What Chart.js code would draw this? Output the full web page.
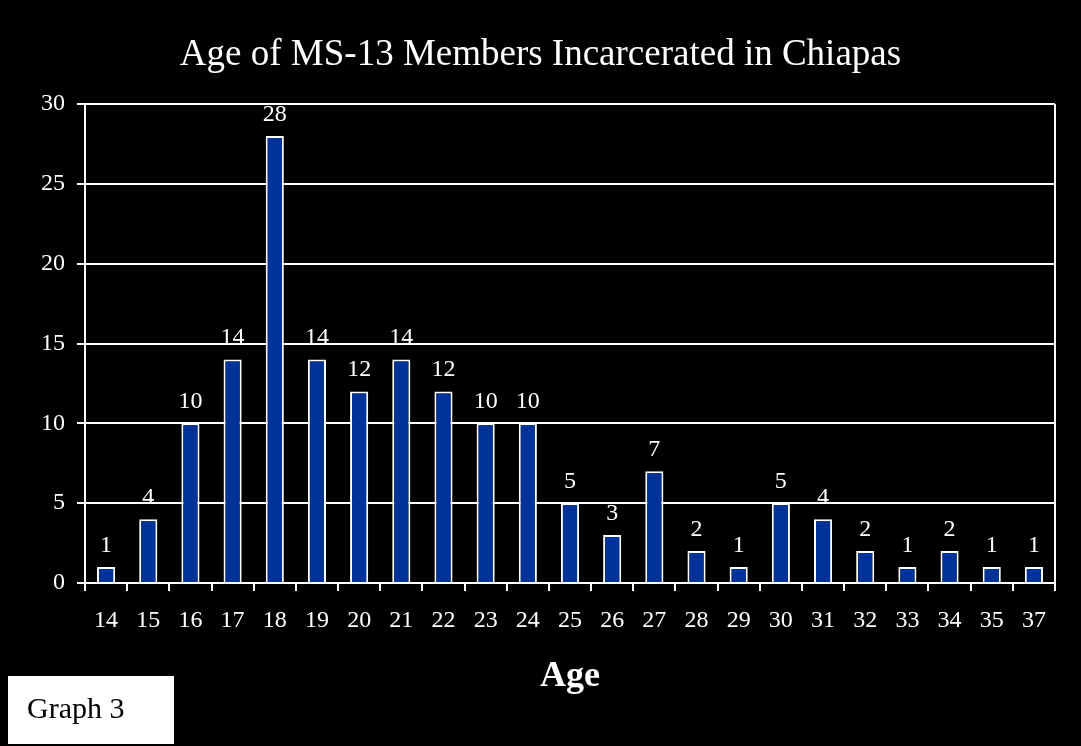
<!DOCTYPE html>
<html>
<head>
<meta charset="utf-8">
<title>Age of MS-13 Members Incarcerated in Chiapas</title>
<script src="https://cdn.jsdelivr.net/npm/chart.js@4.4.1/dist/chart.umd.min.js"></script>
<style>
  html, body { margin: 0; padding: 0; background: #000; }
  canvas { display: block; }
</style>
</head>
<body>
<canvas id="age-chart" width="1081" height="746"></canvas>
<script>
/* ── Data ── */
const ages = ['14', '15', '16', '17', '18', '19', '20', '21', '22', '23', '24', '25',
              '26', '27', '28', '29', '30', '31', '32', '33', '34', '35', '37'];
const members = [1, 4, 10, 14, 28, 14, 12, 14, 12, 10, 10, 5,
                 3, 7, 2, 1, 5, 4, 2, 1, 2, 1, 1];
const yTicks = [0, 5, 10, 15, 20, 25, 30];

/* ── Shared styles ── */
const SERIF = "'Liberation Serif', 'Times New Roman', Times, serif";
const WHITE = '#ffffff';
const BAR_BLUE = '#003399';

// value labels above every bar
const barValueLabels = {
    id: 'barValueLabels',
    afterDatasetsDraw(chart) {
        const { ctx } = chart;
        const meta = chart.getDatasetMeta(0);
        ctx.save();
        ctx.font = `24px ${SERIF}`;
        ctx.fillStyle = WHITE;
        ctx.textAlign = 'center';
        ctx.textBaseline = 'alphabetic';
        meta.data.forEach((bar, i) => {
            ctx.fillText(String(members[i]), bar.x, bar.y - 15);
        });
        ctx.restore();
    }
};

// "Graph 3" caption box, bottom left
const graphCaption = {
    id: 'graphCaption',
    afterDraw(chart) {
        const { ctx } = chart;
        ctx.save();
        ctx.fillStyle = WHITE;
        ctx.fillRect(8, 676, 166, 68);
        ctx.fillStyle = '#000';
        ctx.font = `30px ${SERIF}`;
        ctx.textAlign = 'left';
        ctx.textBaseline = 'alphabetic';
        ctx.fillText('Graph 3', 27, 718);
        ctx.restore();
    }
};

const blackBackground = {
    id: 'blackBackground',
    beforeDraw(chart) {
        const { ctx, width, height } = chart;
        ctx.save();
        ctx.fillStyle = '#000';
        ctx.fillRect(0, 0, width, height);
        ctx.restore();
    }
};

new Chart(document.getElementById('age-chart'), {
    type: 'bar',
    data: {
        labels: ages,
        datasets: [{
            label: 'Members',
            data: members,
            backgroundColor: BAR_BLUE,
            borderColor: WHITE,
            borderWidth: 2,
            barPercentage: 0.86,
            categoryPercentage: 0.5
        }]
    },
    options: {
        responsive: false,
        animation: false,
        layout: { padding: 0 },
        plugins: {
            legend: { display: false },
            tooltip: { enabled: false },
            title: {
                display: true,
                text: 'Age of MS-13 Members Incarcerated in Chiapas',
                color: WHITE,
                font: { family: SERIF, size: 37, weight: 'normal', lineHeight: 1.2 },
                padding: { top: 33, bottom: 26.6 }
            }
        },
        scales: {
            x: {
                grid: {
                    offset: true,
                    drawOnChartArea: true,
                    // only the closing line on the right side of the plot
                    color: c => (c.type === 'scale' ? WHITE : 'transparent'),
                    tickColor: WHITE,
                    tickLength: 8,
                    lineWidth: 2
                },
                border: { display: true, color: WHITE, width: 2 },
                ticks: {
                    color: WHITE,
                    font: { family: SERIF, size: 24 },
                    padding: 15,
                    maxRotation: 0,
                    autoSkip: false
                },
                title: {
                    display: true,
                    text: 'Age',
                    color: WHITE,
                    font: { family: SERIF, size: 36, weight: 'bold', lineHeight: 1.2 },
                    padding: { top: 0, bottom: 48 }
                },
                afterFit: s => { s.height = 163; }
            },
            y: {
                min: 0,
                max: 30,
                afterBuildTicks: s => { s.ticks = yTicks.map(v => ({ value: v })); },
                grid: {
                    color: WHITE,
                    tickColor: WHITE,
                    tickLength: 8,
                    lineWidth: 2
                },
                border: { display: true, color: WHITE, width: 2 },
                ticks: {
                    color: WHITE,
                    font: { family: SERIF, size: 24 },
                    padding: 12
                },
                afterFit: s => { s.width = 85; }
            },
            // empty spacer on the right so the title centres on the full width
            spacer: {
                type: 'linear',
                position: 'right',
                display: true,
                grid: { display: false },
                border: { display: false },
                ticks: { display: false },
                afterFit: s => { s.width = 26; }
            }
        }
    },
    plugins: [blackBackground, barValueLabels, graphCaption]
});
</script>
</body>
</html>
